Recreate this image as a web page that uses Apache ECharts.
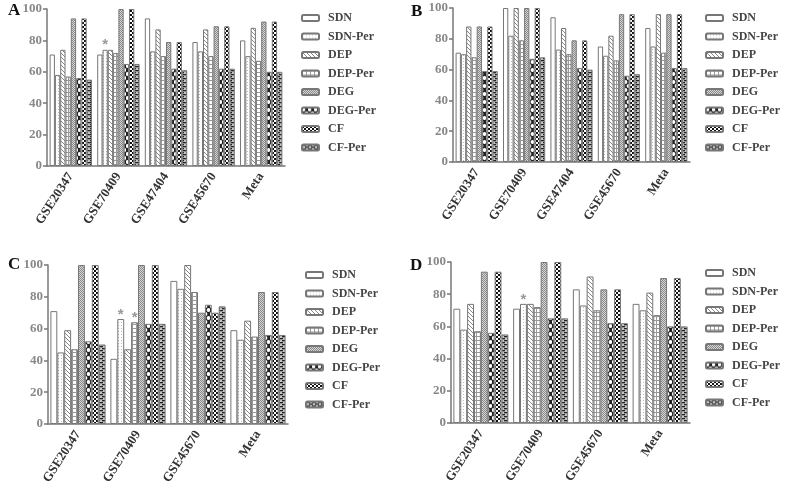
<!DOCTYPE html>
<html><head><meta charset="utf-8">
<script src="https://cdn.jsdelivr.net/npm/echarts@6/dist/echarts.min.js"></script>
<style>html,body{margin:0;padding:0;background:#fff}#c{width:787px;height:494px}</style>
</head><body><div id="c"></div>
<script>
const seriesNames = ['SDN','SDN-Per','DEP','DEP-Per','DEG','DEG-Per','CF','CF-Per'];
const categoriesAB = ['GSE20347','GSE70409','GSE47404','GSE45670','Meta'];
const categoriesCD = ['GSE20347','GSE70409','GSE45670','Meta'];
const yTicks = [0,20,40,60,80,100];
// rows = series (in seriesNames order), columns = categories
const valuesA = [
  [71,71,94,79,80],
  [58,74,73,73,70],
  [74,74,87,87,88],
  [57,72,70,70,67],
  [94,100,79,89,92],
  [56,65,62,62,60],
  [94,100,79,89,92],
  [55,65,61,62,60]
];
const valuesB = [
  [71,100,94,75,87],
  [70,82,73,69,75],
  [88,100,87,82,96],
  [68,79,70,66,71],
  [88,100,79,96,96],
  [59,67,61,56,61],
  [88,100,79,96,96],
  [59,68,60,57,61]
];
const valuesC = [
  [71,41,90,59],
  [45,66,85,53],
  [59,47,100,65],
  [47,64,83,55],
  [100,100,70,83],
  [52,63,75,56],
  [100,100,70,83],
  [50,63,74,56]
];
const valuesD = [
  [71,71,83,74],
  [58,74,73,70],
  [74,74,91,81],
  [57,72,70,67],
  [94,100,83,90],
  [56,65,62,60],
  [94,100,83,90],
  [55,65,62,60]
];
// [seriesIndex, categoryIndex] of bars marked with an asterisk
const starsA = [[1,1]];
const starsB = [];
const starsC = [[1,1],[3,1]];
const starsD = [[1,1]];

function pat(w,h,draw){
  const c=document.createElement('canvas');c.width=w;c.height=h;
  const g=c.getContext('2d');draw(g,w,h);
  return {image:c,repeat:'repeat'};
}
const patterns = [
  '#ffffff',
  pat(3,3,(g)=>{g.fillStyle='#fff';g.fillRect(0,0,3,3);g.fillStyle='#bbb';g.fillRect(1,1,1,1);}),
  pat(4,4,(g)=>{g.fillStyle='#fff';g.fillRect(0,0,4,4);g.fillStyle='#888';for(let i=0;i<4;i++){g.fillRect(i,i,1,1);}}),
  pat(4,4,(g)=>{g.fillStyle='#fff';g.fillRect(0,0,4,4);g.fillStyle='#999';g.fillRect(0,0,4,1);g.fillRect(0,0,1,4);}),
  pat(2,2,(g)=>{g.fillStyle='#d6d6d6';g.fillRect(0,0,2,2);g.fillStyle='#8a8a8a';g.fillRect(0,0,1,1);g.fillRect(1,1,1,1);}),
  pat(6,8,(g)=>{g.fillStyle='#222';g.fillRect(0,0,6,8);g.fillStyle='#fff';
    g.beginPath();g.arc(1.5,2,1.9,0,Math.PI*2);g.fill();
    g.beginPath();g.arc(4.5,6,1.9,0,Math.PI*2);g.fill();}),
  pat(4,4,(g)=>{g.fillStyle='#fff';g.fillRect(0,0,4,4);g.fillStyle='#111';g.fillRect(0,0,2,2);g.fillRect(2,2,2,2);}),
  pat(6,4,(g)=>{g.fillStyle='#c4c4c4';g.fillRect(0,0,6,4);g.fillStyle='#222';g.fillRect(0,0,4,1.3);g.fillRect(3,2,3,1.3);g.fillRect(0,2,1,1.3);})
];

const panels = [
  {letter:'A',cats:categoriesAB,vals:valuesA,stars:starsA,grid:{left:47,top:9,width:238,height:157},legend:{left:301,top:12},lx:8,ly:2,gap:'11%'},
  {letter:'B',cats:categoriesAB,vals:valuesB,stars:starsB,grid:{left:453,top:8,width:237,height:154},legend:{left:705,top:12},lx:411,ly:3,gap:'11%'},
  {letter:'C',cats:categoriesCD,vals:valuesC,stars:starsC,grid:{left:48,top:265,width:240,height:159},legend:{left:305,top:269},lx:8,ly:256,gap:'8%'},
  {letter:'D',cats:categoriesCD,vals:valuesD,stars:starsD,grid:{left:451,top:262,width:239,height:161},legend:{left:705,top:267},lx:410,ly:257,gap:'8%'}
];

const serif = 'Liberation Serif';
const option = {animation:false,backgroundColor:'#fff',grid:[],xAxis:[],yAxis:[],legend:[],series:[],graphic:[]};
panels.forEach((p,pi)=>{
  option.grid.push(Object.assign({containLabel:false},p.grid));
  option.xAxis.push({type:'category',gridIndex:pi,data:p.cats,
    axisLine:{lineStyle:{color:'#777',width:1.5}},
    axisTick:{alignWithLabel:true,length:4,lineStyle:{color:'#777',width:1.5}},
    axisLabel:{rotate:57,margin:8,fontFamily:serif,fontWeight:'bold',fontSize:13,color:'#333'}});
  option.yAxis.push({type:'value',gridIndex:pi,min:0,max:100,interval:20,
    axisLine:{show:true,lineStyle:{color:'#777',width:1.5}},
    axisTick:{show:true,length:4,lineStyle:{color:'#777',width:1.5}},
    splitLine:{show:false},
    axisLabel:{margin:5,fontFamily:serif,fontWeight:'bold',fontSize:13,color:'#888',
      formatter:(v)=>yTicks.includes(v)?String(v):''}});
  option.legend.push({orient:'vertical',left:p.legend.left,top:p.legend.top,padding:0,
    itemWidth:17,itemHeight:6,itemGap:6.5,data:seriesNames,selectedMode:false,
    textStyle:{fontFamily:serif,fontWeight:'bold',fontSize:12,lineHeight:12,color:'#444',padding:[0,0,0,4]}});
  seriesNames.forEach((nm,si)=>{
    const data = p.vals[si].map((v,ci)=>{
      const star = p.stars.some(s=>s[0]===si&&s[1]===ci);
      return star?{value:v,label:{show:true,position:'top',formatter:'*',distance:-3,color:'#999',fontSize:15,fontWeight:'bold'}}:v;
    });
    option.series.push({type:'bar',name:nm,xAxisIndex:pi,yAxisIndex:pi,data,
      barGap:'0%',barCategoryGap:p.gap,
      itemStyle:{color:patterns[si],borderColor:'#777',borderWidth:1}});
  });
  option.graphic.push({type:'text',left:p.lx,top:p.ly,style:{text:p.letter,font:'bold 17px "Liberation Serif"',fill:'#111'}});
});
const chart = echarts.init(document.getElementById('c'),null,{renderer:'canvas'});
chart.setOption(option);
</script></body></html>
